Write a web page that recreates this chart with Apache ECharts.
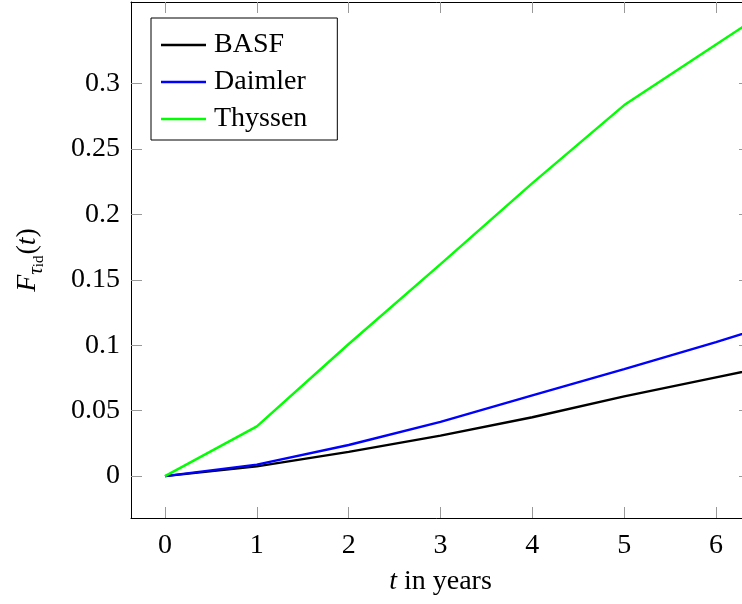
<!DOCTYPE html>
<html>
<head>
<meta charset="utf-8">
<script src="https://cdn.jsdelivr.net/npm/echarts@6/dist/echarts.min.js"></script>
<style>
  html, body { margin: 0; padding: 0; background: #fff; }
  #chart { width: 742px; height: 604px; }
</style>
</head>
<body>
<div id="chart"></div>
<script>
// values
const years = [0, 1, 2, 3, 4, 5, 6, 7];
const basf = [0, 0.0075, 0.0185, 0.031, 0.045, 0.061, 0.0755, 0.090];
const daimler = [0, 0.0088, 0.0238, 0.0415, 0.0618, 0.0818, 0.1025, 0.124];
const thyssen = [0, 0.038, 0.101, 0.162, 0.224, 0.2836, 0.330, 0.376];
const xTicks = [0, 1, 2, 3, 4, 5, 6];
const yTicks = [0, 0.05, 0.1, 0.15, 0.2, 0.25, 0.3];

const font = "Liberation Serif";
const pairs = (ys) => years.map((x, i) => [x, ys[i]]);

const chart = echarts.init(document.getElementById("chart"));

// shared axis look, pgfplots style (box + inward ticks)
const axisBase = {
  type: "value",
  axisLine: { show: true, onZero: false, lineStyle: { color: "#000", width: 1 } },
  axisTick: { show: true, inside: true, length: 11, lineStyle: { color: "#999", width: 1 } },
  splitLine: { show: false },
};

chart.setOption({
  animation: false,
  backgroundColor: "#fff",
  grid: { left: 131, top: 2, right: -8, bottom: 86, outerBoundsMode: "none", containLabel: false },
  legend: {
    orient: "vertical",
    left: 151,
    top: 18,
    padding: [12, 30, 6, 10],
    itemGap: 7,
    itemWidth: 45,
    itemHeight: 2.5,
    icon: "rect",
    borderColor: "#000",
    borderWidth: 1,
    backgroundColor: "#fff",
    textStyle: { fontFamily: font, fontSize: 28, lineHeight: 30, color: "#000", padding: [0, 0, 0, 3] },
    data: ["BASF", "Daimler", "Thyssen"],
  },
  xAxis: [
    {
      ...axisBase,
      position: "bottom",
      min: -0.37,
      max: 6.37,
      axisTick: { ...axisBase.axisTick, customValues: xTicks },
      axisLabel: { customValues: xTicks, margin: 14, fontFamily: font, fontSize: 28, color: "#000" },
      name: "{i|t} in years",
      nameLocation: "middle",
      nameGap: 50,
      nameTextStyle: {
        fontFamily: font, fontSize: 28, color: "#000",
        rich: { i: { fontFamily: font, fontSize: 28, fontStyle: "italic", color: "#000" } },
      },
    },
    {
      ...axisBase,
      position: "top",
      min: -0.37,
      max: 6.37,
      axisTick: { ...axisBase.axisTick, customValues: xTicks },
      axisLabel: { show: false },
    },
  ],
  yAxis: [
    {
      ...axisBase,
      position: "left",
      min: -0.032,
      max: 0.3624,
      axisTick: { ...axisBase.axisTick, customValues: yTicks },
      axisLabel: { customValues: yTicks, margin: 11, fontFamily: font, fontSize: 28, color: "#000" },
      name: "{f|F}{s|τ}{d|id}{p|(}{f|t}{p|)}",
      nameLocation: "middle",
      nameRotate: 90,
      nameGap: 84,
      nameTextStyle: {
        fontFamily: font, fontSize: 28, color: "#000",
        rich: {
          f: { fontFamily: font, fontSize: 28, fontStyle: "italic", color: "#000", verticalAlign: "middle" },
          p: { fontFamily: font, fontSize: 28, color: "#000", verticalAlign: "middle" },
          s: { fontFamily: font, fontSize: 21, fontStyle: "italic", color: "#000", verticalAlign: "bottom", padding: [18, 0, 0, 0] },
          d: { fontFamily: font, fontSize: 15, color: "#000", verticalAlign: "bottom", padding: [22, 1, 0, 0] },
        },
      },
    },
    {
      ...axisBase,
      position: "right",
      min: -0.032,
      max: 0.3624,
      axisTick: { ...axisBase.axisTick, customValues: yTicks },
      axisLabel: { show: false },
    },
  ],
  series: [
    { name: "BASF", type: "line", data: pairs(basf), symbol: "none", lineStyle: { width: 2.4, color: "#000" }, itemStyle: { color: "#000" } },
    { name: "Daimler", type: "line", data: pairs(daimler), symbol: "none", lineStyle: { width: 2.4, color: "#0000ff" }, itemStyle: { color: "#0000ff" } },
    { name: "Thyssen", type: "line", data: pairs(thyssen), symbol: "none", lineStyle: { width: 2.4, color: "#00ff00" }, itemStyle: { color: "#00ff00" } },
  ],
});

window.onresize = function () {
  chart.resize();
};
</script>
</body>
</html>
